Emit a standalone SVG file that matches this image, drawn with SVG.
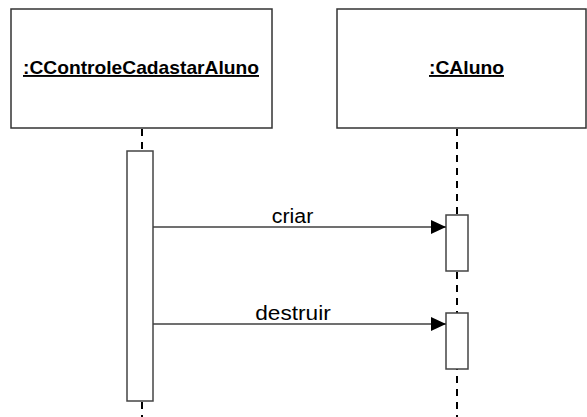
<svg xmlns="http://www.w3.org/2000/svg" width="587" height="417" viewBox="0 0 587 417">
<style>
.box{fill:#fff;stroke:#333;stroke-width:1.5}
.act{fill:#fff;stroke:#444;stroke-width:1.5}
.life{stroke:#000;stroke-width:2;stroke-dasharray:7 6;fill:none}
.msg{stroke:#404040;stroke-width:1.5;fill:none}
.title{font-family:"Liberation Sans",Arial,sans-serif;font-weight:bold;font-size:19px;text-decoration:underline;fill:#000}
.lbl{font-family:"Liberation Sans",Arial,sans-serif;font-size:20px;fill:#000}
</style>
<defs>
<marker id="arr" markerWidth="15" markerHeight="14" refX="15" refY="7" orient="auto" markerUnits="userSpaceOnUse">
<path d="M0,0 L15,7 L0,14 Z" fill="#000"/>
</marker>
</defs>
<g id="lifelines">
<line class="life" x1="142" y1="129" x2="142" y2="417"/>
<line class="life" x1="457" y1="129" x2="457" y2="417"/>
</g>
<g id="controle">
<rect class="box" x="11" y="9" width="261" height="119"/>
<text class="title" x="141" y="74" text-anchor="middle" textLength="236" lengthAdjust="spacingAndGlyphs">:CControleCadastarAluno</text>
</g>
<g id="aluno">
<rect class="box" x="337" y="9" width="249" height="119"/>
<text class="title" x="466.5" y="74" text-anchor="middle" textLength="75" lengthAdjust="spacingAndGlyphs">:CAluno</text>
</g>
<g id="act1">
<rect class="act" x="127" y="151" width="26" height="250"/>
</g>
<g id="act2">
<rect class="act" x="446" y="215" width="22" height="56"/>
</g>
<g id="act3">
<rect class="act" x="446" y="313" width="22" height="56"/>
</g>
<g id="connectors">
<line class="msg" x1="153" y1="227" x2="446" y2="227" marker-end="url(#arr)"/>
<text class="lbl" x="292.5" y="222.5" text-anchor="middle" textLength="41.5" lengthAdjust="spacingAndGlyphs">criar</text>
<line class="msg" x1="153" y1="324" x2="446" y2="324" marker-end="url(#arr)"/>
<text class="lbl" x="293" y="320" text-anchor="middle" textLength="75.5" lengthAdjust="spacingAndGlyphs">destruir</text>
</g>
</svg>
